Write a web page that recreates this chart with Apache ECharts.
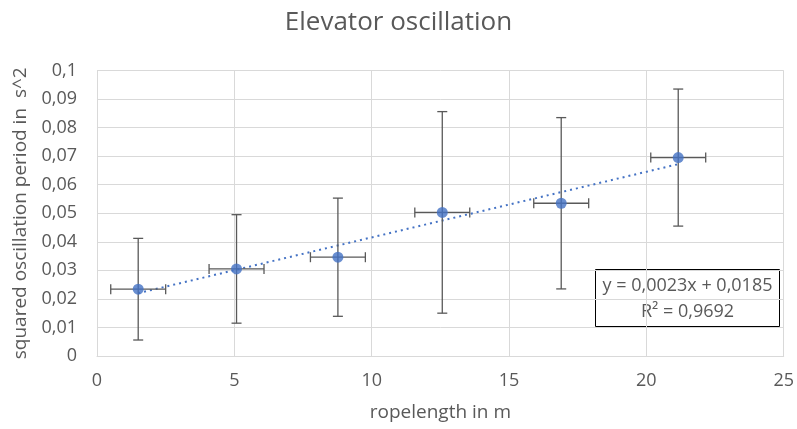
<!DOCTYPE html>
<html>
<head>
<meta charset="utf-8">
<script src="https://cdn.jsdelivr.net/npm/echarts@6/dist/echarts.min.js"></script>
<style>
  html, body { margin: 0; padding: 0; background: #fff; }
  #main { width: 797px; height: 429px; }
</style>
</head>
<body>
<div id="main"></div>
<script>
// ropelength (m) and squared period (s^2)
var ropeLength = [1.50, 5.08, 8.77, 12.57, 16.90, 21.16];
var periodSq   = [0.0234, 0.0305, 0.0346, 0.0503, 0.0535, 0.0695];
// error bar half-widths
var yErr = [0.0178, 0.0190, 0.0207, 0.0353, 0.0300, 0.0240];
var xErr = [1.0, 1.0, 1.0, 1.0, 1.0, 1.0];
// trendline ends (dotted linear fit)
var trendX = [1.50, 21.16];
var trendY = [0.0220, 0.0672];
var fitText = ['y = 0,0023x + 0,0185', 'R\u00b2 = 0,9692'];

var textColor = '#595959';
var gridColor = '#d9d9d9';
var font = 'Open Sans, Noto Sans, sans-serif';

var points = ropeLength.map(function (x, i) { return [x, periodSq[i]]; });
var errData = ropeLength.map(function (x, i) { return [x, periodSq[i], xErr[i], yErr[i]]; });
var trend = trendX.map(function (x, i) { return [x, trendY[i]]; });

var chart = echarts.init(document.getElementById('main'));

var option = {
  animation: false,
  title: {
    text: 'Elevator oscillation',
    left: 'center',
    top: 5,
    textStyle: { fontFamily: font, fontSize: 26, fontWeight: 'normal', color: textColor }
  },
  grid: { left: 97, right: 12, top: 70.5, bottom: 73 },
  xAxis: {
    type: 'value',
    min: 0, max: 25, interval: 5,
    name: 'ropelength in m',
    nameLocation: 'middle',
    nameGap: 47,
    nameTextStyle: { fontFamily: font, fontSize: 19, color: textColor },
    axisLine: { show: true, lineStyle: { color: gridColor } },
    axisTick: { show: false },
    axisLabel: { fontFamily: font, fontSize: 18, color: textColor, margin: 16 },
    splitLine: { show: true, lineStyle: { color: gridColor } }
  },
  yAxis: {
    type: 'value',
    min: 0, max: 0.1, interval: 0.01,
    name: 'squared oscillation period in  s^2',
    nameLocation: 'middle',
    nameGap: 63,
    nameTextStyle: { fontFamily: font, fontSize: 19, color: textColor },
    axisLine: { show: true, lineStyle: { color: gridColor } },
    axisTick: { show: false },
    axisLabel: {
      fontFamily: font, fontSize: 18, color: textColor, margin: 20,
      formatter: function (v) { return String(+v.toFixed(2)).replace('.', ','); }
    },
    splitLine: { show: true, lineStyle: { color: gridColor } }
  },
  graphic: [{
    type: 'group',
    left: 595, top: 269,
    children: [
      { type: 'rect', shape: { x: 0, y: 0, width: 184, height: 57 },
        style: { fill: '#fff', stroke: '#000', lineWidth: 1 } },
      { type: 'text', x: 92, y: 16,
        style: { text: fitText[0], fill: textColor, font: '18px ' + font, align: 'center', verticalAlign: 'middle' } },
      { type: 'text', x: 92, y: 42,
        style: { text: fitText[1], fill: textColor, font: '18px ' + font, align: 'center', verticalAlign: 'middle' } }
    ]
  }],
  series: [
    {
      type: 'line',
      data: trend,
      symbol: 'none',
      lineStyle: { color: '#4472c4', width: 2, type: [2, 4] },
      z: 2
    },
    {
      type: 'custom',
      data: errData,
      z: 3,
      renderItem: function (params, api) {
        var x = api.value(0), y = api.value(1), dx = api.value(2), dy = api.value(3);
        var top = api.coord([x, y + dy]);
        var bot = api.coord([x, y - dy]);
        var lft = api.coord([x - dx, y]);
        var rgt = api.coord([x + dx, y]);
        var c = 5, st = { stroke: '#595959', lineWidth: 1.3 };
        return {
          type: 'group',
          children: [
            { type: 'line', shape: { x1: top[0], y1: top[1], x2: bot[0], y2: bot[1] }, style: st },
            { type: 'line', shape: { x1: top[0] - c, y1: top[1], x2: top[0] + c, y2: top[1] }, style: st },
            { type: 'line', shape: { x1: bot[0] - c, y1: bot[1], x2: bot[0] + c, y2: bot[1] }, style: st },
            { type: 'line', shape: { x1: lft[0], y1: lft[1], x2: rgt[0], y2: rgt[1] }, style: st },
            { type: 'line', shape: { x1: lft[0], y1: lft[1] - c, x2: lft[0], y2: lft[1] + c }, style: st },
            { type: 'line', shape: { x1: rgt[0], y1: rgt[1] - c, x2: rgt[0], y2: rgt[1] + c }, style: st }
          ]
        };
      }
    },
    {
      type: 'scatter',
      data: points,
      symbol: 'circle',
      symbolSize: 11,
      itemStyle: { color: '#4472c4' },
      z: 4
    }
  ]
};

chart.setOption(option);
</script>
</body>
</html>
